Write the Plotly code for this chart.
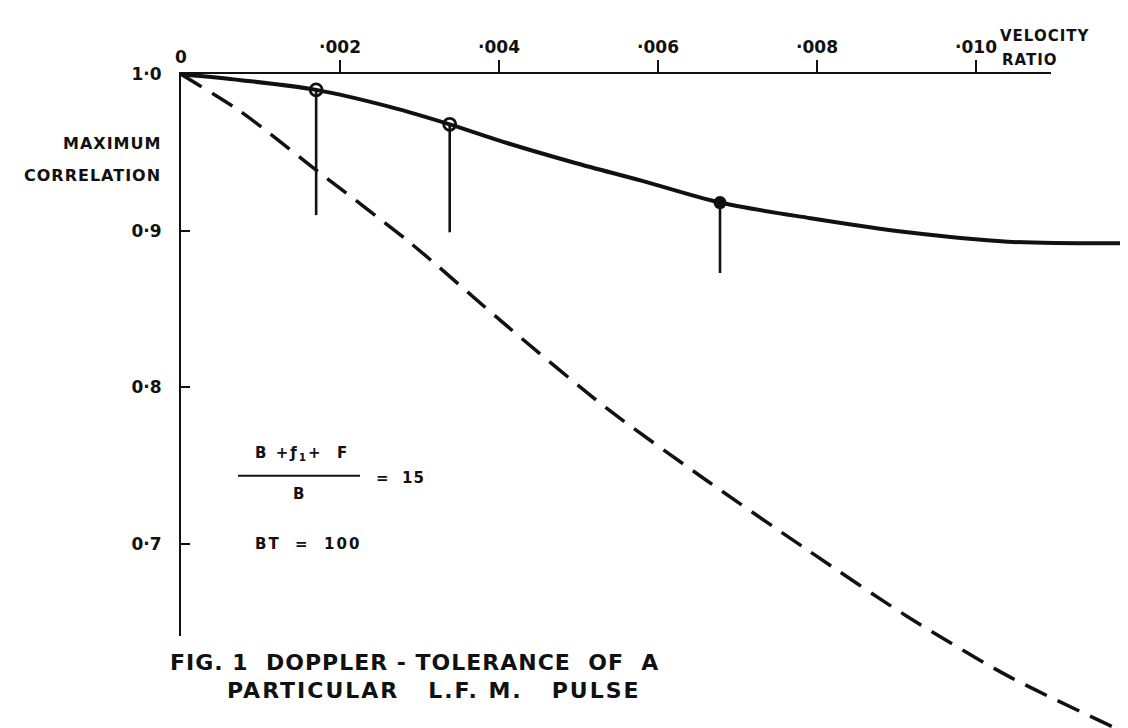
import plotly.graph_objects as go

# ---- data ----
solid_x = [0, 0.000755, 0.0017, 0.00264, 0.00338, 0.00411, 0.00496, 0.00579,
           0.00678, 0.00792, 0.00914, 0.0104, 0.0119]
solid_y = [1.0, 0.9962, 0.990, 0.979, 0.968, 0.9559, 0.9433, 0.9320,
           0.918, 0.908, 0.899, 0.8930, 0.892]
dashed_x = [0, 0.000717, 0.00113, 0.0016, 0.00289, 0.00411, 0.00537, 0.00663,
            0.00789, 0.00914, 0.0104, 0.01185]
dashed_y = [1.0, 0.9773, 0.9616, 0.9427, 0.892, 0.8387, 0.786, 0.7398,
            0.6957, 0.6534, 0.6156, 0.580]
point_x = [0.0017, 0.00338, 0.00678]
point_y = [0.990, 0.968, 0.918]
spread_low = [0.910, 0.899, 0.873]
x_ticks = [0.002, 0.004, 0.006, 0.008, 0.010]
x_tick_labels = ["·002", "·004", "·006", "·008", "·010"]
y_ticks = [0.7, 0.8, 0.9, 1.0]
y_tick_labels = ["0·7", "0·8", "0·9", "1·0"]

# ---- geometry (pixels) ----
W, H = 1128, 728
X0_PX, Y1_PX = 173, 57          # origin pixel (x=0, y=1.0)
PX_PER_X = 79500.0              # pixels per unit velocity ratio
PX_PER_Y = 1587.0               # pixels per unit correlation
AXIS_X_END_PX = 1043
AXIS_Y_END_PX = 627

def px(xp):
    return xp / W

def py(yp):
    return 1 - yp / H

xr = [-X0_PX / PX_PER_X, (W - X0_PX) / PX_PER_X]
yr = [1 - (H - Y1_PX) / PX_PER_Y, 1 + Y1_PX / PX_PER_Y]

FONT = "DejaVu Sans"
BLACK = "#111111"

fig = go.Figure()

# vertical spread lines
vx, vy = [], []
for x, y, lo in zip(point_x, point_y, spread_low):
    vx += [x, x, None]
    vy += [y, lo, None]
fig.add_trace(go.Scatter(x=vx, y=vy, mode="lines",
                         line=dict(color=BLACK, width=2.6),
                         hoverinfo="skip", showlegend=False))

fig.add_trace(go.Scatter(x=dashed_x, y=dashed_y, mode="lines",
                         line=dict(color=BLACK, width=3.5, dash="24px,12px",
                                   shape="spline", smoothing=0.8),
                         showlegend=False))
fig.add_trace(go.Scatter(x=solid_x, y=solid_y, mode="lines",
                         line=dict(color=BLACK, width=4, shape="spline", smoothing=0.9),
                         showlegend=False))
fig.add_trace(go.Scatter(x=point_x[:2], y=point_y[:2], mode="markers",
                         marker=dict(symbol="circle-open", size=12, color=BLACK,
                                     line=dict(color=BLACK, width=2.8)),
                         showlegend=False))
fig.add_trace(go.Scatter(x=point_x[2:], y=point_y[2:], mode="markers",
                         marker=dict(symbol="circle", size=13, color=BLACK),
                         showlegend=False))

# dummy trace for the visible axes
fig.add_trace(go.Scatter(x=[0], y=[1.0], xaxis="x2", yaxis="y2", mode="markers",
                         marker=dict(size=1, color="rgba(0,0,0,0)"),
                         showlegend=False, hoverinfo="skip"))

tick_font = dict(family=FONT, size=17, color=BLACK, weight="bold")

fig.update_layout(
    width=W, height=H,
    margin=dict(l=0, r=0, t=0, b=0),
    paper_bgcolor="white", plot_bgcolor="rgba(0,0,0,0)",
    showlegend=False,
    xaxis=dict(range=xr, visible=False, domain=[0, 1], fixedrange=True),
    yaxis=dict(range=yr, visible=False, domain=[0, 1], fixedrange=True),
    xaxis2=dict(domain=[px(X0_PX), px(AXIS_X_END_PX)],
                range=[0, (AXIS_X_END_PX - X0_PX) / PX_PER_X],
                anchor="y2", side="top", showline=True, linecolor=BLACK, linewidth=2,
                ticks="outside", ticklen=12, tickwidth=2, tickcolor=BLACK,
                tickmode="array", tickvals=x_ticks, ticktext=x_tick_labels,
                tickfont=tick_font, showgrid=False, zeroline=False),
    yaxis2=dict(domain=[py(AXIS_Y_END_PX), py(Y1_PX)],
                range=[1 - (AXIS_Y_END_PX - Y1_PX) / PX_PER_Y, 1.0],
                anchor="x2", side="left", showline=True, linecolor=BLACK, linewidth=2,
                ticks="inside", ticklen=9, tickwidth=2, tickcolor=BLACK,
                tickmode="array", tickvals=y_ticks, ticktext=y_tick_labels,
                tickfont=tick_font, ticklabelstandoff=14,
                showgrid=False, zeroline=False),
)

def note(text, xp, yp, size, xanchor="left", yanchor="middle", ls=0):
    if ls:
        text = f'<span style="letter-spacing:{ls}px">{text}</span>'
    fig.add_annotation(text=text, x=px(xp), y=py(yp), xref="paper", yref="paper",
                       xanchor=xanchor, yanchor=yanchor, showarrow=False,
                       font=dict(family=FONT, size=size, color=BLACK, weight="bold"))

note("0", 173, 40, 17, xanchor="center")
note("VELOCITY", 990, 18, 15, ls=1)
note("RATIO", 992, 43, 15, ls=1)
note("MAXIMUM", 155, 127, 16, xanchor="right", ls=1)
note("CORRELATION", 155, 160, 16, xanchor="right", ls=1)
note("B +ƒ<sub>1</sub>+  F", 245, 442, 15, ls=2)
note("B", 290, 483, 15, xanchor="center")
note("=  15", 366, 466, 15, ls=1)
note("BT  =  100", 245, 533, 15, ls=2)
note("FIG. 1  DOPPLER - TOLERANCE  OF  A", 160, 653, 22, ls=1)
note("PARTICULAR   L.F. M.   PULSE", 217, 682, 22, ls=2)

fig.add_shape(type="line", xref="paper", yref="paper",
              x0=px(230), x1=px(352), y0=py(464), y1=py(464),
              line=dict(color=BLACK, width=2))

fig.write_html("out.html")
